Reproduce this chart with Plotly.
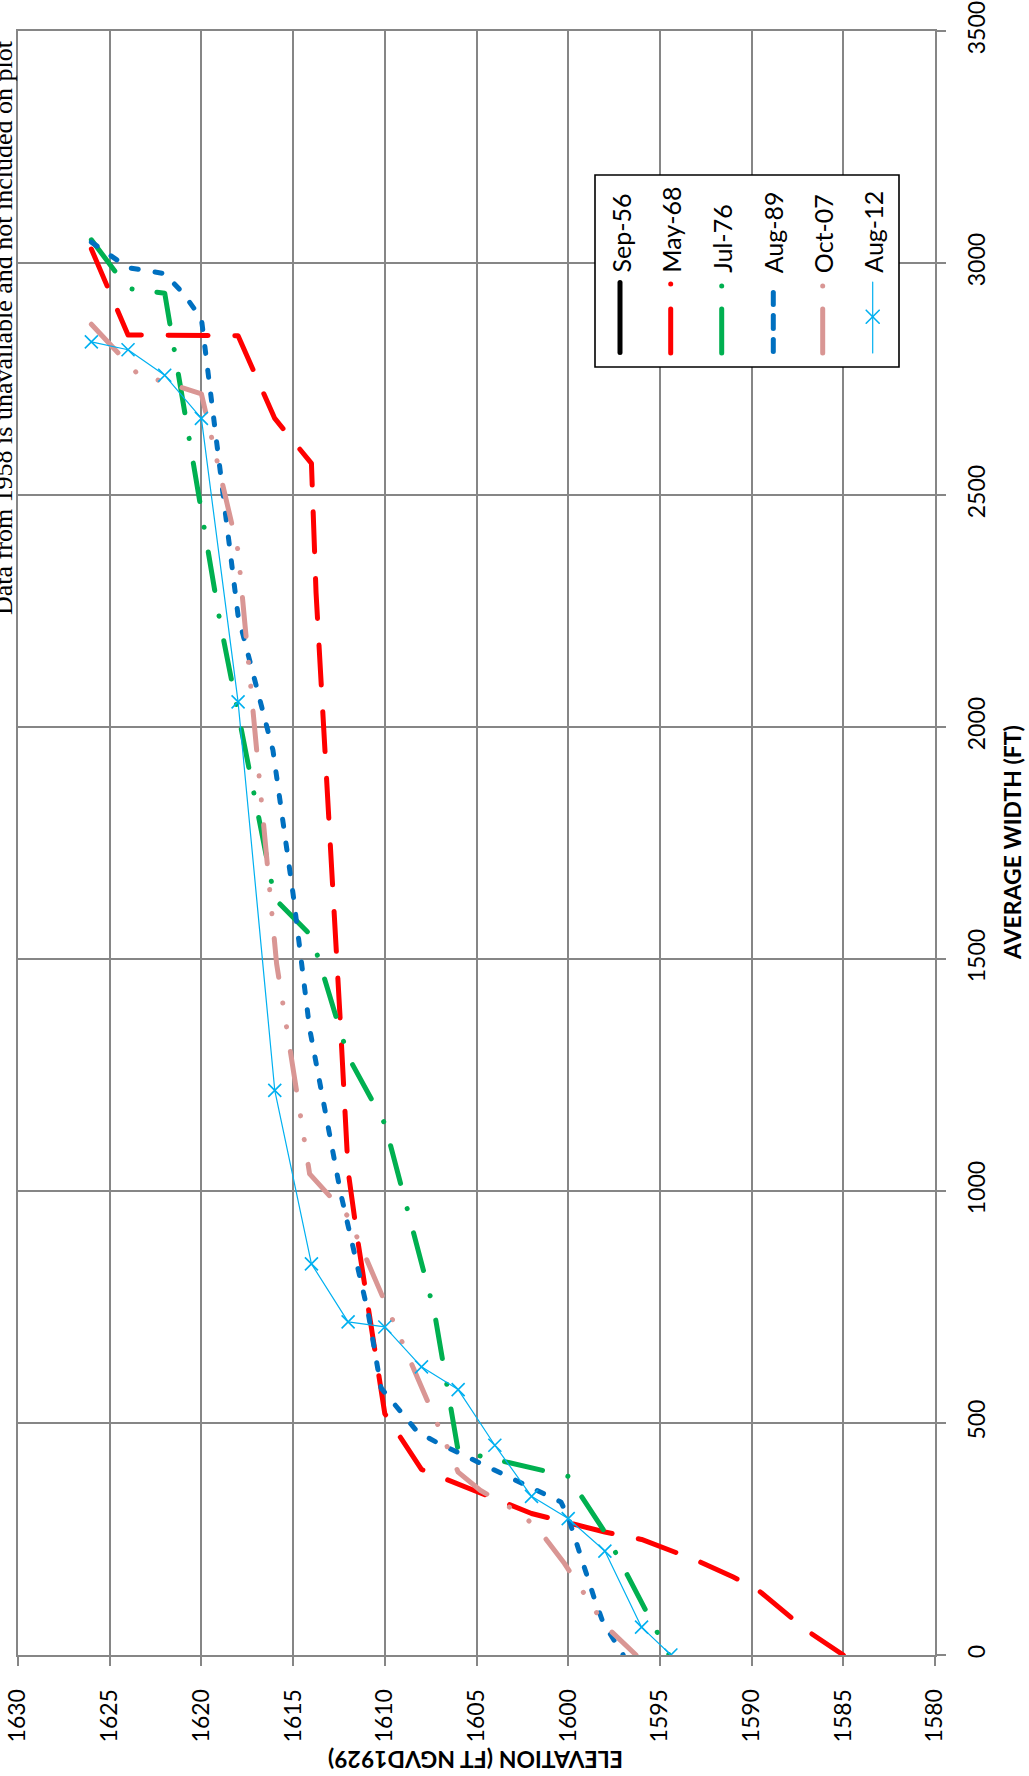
import plotly.graph_objects as go

# ---------------- data (elevation ft NGVD1929, average width ft) ----------------
elev_ticks = [1630, 1625, 1620, 1615, 1610, 1605, 1600, 1595, 1590, 1585, 1580]
width_ticks = [0, 500, 1000, 1500, 2000, 2500, 3000, 3500]

series_names = ["Sep-56", "May-68", "Jul-76", "Aug-89", "Oct-07", "Aug-12"]

# Sep-56 line is not visible in the picture (legend entry only)
sep56_elev = []
sep56_width = []

may68_elev = [1626.0, 1624.0, 1618.0, 1616.0, 1614.0, 1613.75, 1612.45, 1612.0, 1611.5,
              1610.7, 1610.0, 1608.0, 1607.0, 1604.7, 1603.5, 1602.0, 1600.0, 1598.0,
              1596.0, 1593.0, 1591.0, 1589.8, 1587.0, 1586.0, 1585.0]
may68_width = [3030, 2845, 2843, 2665, 2568, 2290, 1382, 1043, 900,
               700, 520, 400, 384, 349, 330, 305, 285, 265,
               249, 204, 168, 145, 53, 25, 0]

jul76_elev = [1626.0, 1624.0, 1622.0, 1619.0, 1616.0, 1614.0, 1612.0, 1610.0, 1607.3,
              1606.0, 1600.0, 1598.0, 1594.5]
jul76_width = [3050, 2945, 2935, 2230, 1630, 1550, 1290, 1145, 740,
               440, 385, 265, 0]

aug89_elev = [1626.0, 1624.0, 1622.0, 1621.0, 1620.0, 1618.0, 1616.1, 1615.0, 1614.1,
              1612.4, 1610.9, 1610.2, 1608.2, 1607.2, 1600.4, 1600.0, 1598.6, 1598.1, 1597.0]
aug89_width = [3045, 2990, 2977, 2935, 2880, 2240, 1950, 1640, 1350,
               994, 736, 575, 480, 459, 330, 297, 125, 70, 0]

oct07_elev = [1626.0, 1623.5, 1620.0, 1618.0, 1615.9, 1614.1, 1612.0, 1606.0, 1604.8,
              1602.6, 1601.6, 1600.2, 1598.0, 1596.3]
oct07_width = [2868, 2762, 2718, 2380, 1490, 1037, 945, 394, 355,
               305, 270, 197, 64, 0]

aug12_elev = [1626, 1624, 1622, 1620, 1618, 1616, 1614, 1612, 1610, 1608, 1606, 1604,
              1602, 1600, 1598, 1596, 1594.4]
aug12_width = [2830, 2813, 2758, 2665, 2054, 1217, 843, 718, 707, 621, 572, 452,
               342, 294, 224, 60, 0]

# ---------------- styling ----------------
W_FIG, H_FIG = 1029, 1776
L, R, T, B = 18, 94, 31, 121
PW, PH = W_FIG - L - R, H_FIG - T - B
GRID = "#868686"

def px(x):
    return (x - L) / PW

def py(y):
    return (H_FIG - B - y) / PH

fig = go.Figure()

def add(name, xs, ys, color, width, dash):
    fig.add_trace(go.Scatter(x=xs, y=ys, mode="lines", name=name,
                             line=dict(color=color, width=width, dash=dash),
                             showlegend=False, hoverinfo="skip"))

add("Sep-56", sep56_elev, sep56_width, "black", 5, "solid")
add("May-68", may68_elev, may68_width, "#FF0000", 5, "40px,26.7px")
add("Jul-76", jul76_elev, jul76_width, "#00B050", 5, "39px,26px,0.1px,25px")
add("Aug-89", aug89_elev, aug89_width, "#0070C0", 5, "7px,17px")
add("Oct-07", oct07_elev, oct07_width, "#D99694", 5, "39px,26px,0.1px,24px,0.1px,25px")
fig.add_trace(go.Scatter(x=aug12_elev, y=aug12_width, mode="lines+markers", name="Aug-12",
                         line=dict(color="#00B0F0", width=1.2),
                         marker=dict(symbol="x-thin", size=13,
                                     line=dict(color="#00B0F0", width=1.6)),
                         showlegend=False, hoverinfo="skip"))

tickfont = dict(family="Lato, DejaVu Sans", size=23, color="black")
fig.update_xaxes(range=[1630, 1580], tickvals=elev_ticks, tickangle=-90,
                 ticks="outside", ticklen=9, tickcolor=GRID, tickwidth=1.7,
                 showgrid=True, gridcolor=GRID, gridwidth=1.7,
                 showline=True, linecolor=GRID, linewidth=1.7, mirror=True,
                 zeroline=False, tickfont=tickfont, ticklabelstandoff=14,
                 automargin=False)
fig.update_yaxes(range=[0, 3500], tickvals=width_ticks, tickangle=-90, side="right",
                 ticks="outside", ticklen=9, tickcolor=GRID, tickwidth=1.7,
                 showgrid=True, gridcolor=GRID, gridwidth=1.7,
                 showline=True, linecolor=GRID, linewidth=1.7, mirror=True,
                 zeroline=False, tickfont=tickfont, ticklabelstandoff=12,
                 automargin=False)

annotations = [
    dict(text="Data from 1958 is unavailable and not included on plot",
         x=px(3), y=py(328), xref="paper", yref="paper", showarrow=False,
         textangle=-90, xanchor="center", yanchor="middle",
         font=dict(family="Liberation Serif", size=26, color="black")),
    dict(text="<b>AVERAGE WIDTH (FT)</b>", x=px(1012), y=py(843),
         xref="paper", yref="paper", showarrow=False, textangle=-90,
         xanchor="center", yanchor="middle",
         font=dict(family="Lato", size=23, color="black")),
    dict(text="<b>ELEVATION (FT NGVD1929)</b>", x=px(476), y=py(1760),
         xref="paper", yref="paper", showarrow=False, textangle=180,
         xanchor="center", yanchor="middle",
         font=dict(family="Lato", size=23, color="black")),
]

# ---------------- manual (rotated) legend ----------------
shapes = [dict(type="rect", xref="paper", yref="paper",
               x0=px(595), x1=px(899), y0=py(175), y1=py(367),
               line=dict(color="black", width=1.6), fillcolor="white", layer="above")]
col_x = [620, 670.7, 721.7, 773.3, 822.7, 872.7]

def seg(x, y0, y1, color, width):
    shapes.append(dict(type="line", xref="paper", yref="paper",
                       x0=px(x), x1=px(x), y0=py(y0), y1=py(y1),
                       line=dict(color=color, width=width), layer="above"))

seg(col_x[0], 282.5, 352.5, "black", 5)
seg(col_x[1], 283.9, 284.0, "#FF0000", 5)
seg(col_x[1], 309, 353, "#FF0000", 5)
seg(col_x[2], 285.9, 286.0, "#00B050", 5)
seg(col_x[2], 309, 353, "#00B050", 5)
for a, b in [(292.5, 304.5), (315.5, 328.5), (339.5, 351.5)]:
    seg(col_x[3], a, b, "#0070C0", 5)
seg(col_x[4], 285.9, 286.0, "#D99694", 5)
seg(col_x[4], 309, 353, "#D99694", 5)
seg(col_x[5], 282, 353, "#00B0F0", 1.2)
cx, cy, h = col_x[5], 316.7, 6.5
for dx in (h, -h):
    shapes.append(dict(type="line", xref="paper", yref="paper",
                       x0=px(cx - dx), x1=px(cx + dx), y0=py(cy - h), y1=py(cy + h),
                       line=dict(color="#00B0F0", width=1.6), layer="above"))

for name, x in zip(series_names, col_x):
    annotations.append(dict(text=name, x=px(x), y=py(275), xref="paper", yref="paper",
                            showarrow=False, textangle=-90, xanchor="center",
                            yanchor="bottom",
                            font=dict(family="Lato", size=25, color="black")))

fig.update_layout(width=W_FIG, height=H_FIG,
                  margin=dict(l=L, r=R, t=T, b=B, pad=0, autoexpand=False),
                  paper_bgcolor="white", plot_bgcolor="white",
                  showlegend=False, annotations=annotations, shapes=shapes)

post = ("var s=document.createElement('style');"
        "s.innerHTML='html,body{margin:0;padding:0;overflow:hidden}"
        " .scatterlayer .js-line{stroke-linecap:round;stroke-linejoin:round}"
        " .shapelayer path{stroke-linecap:round}';"
        "document.head.appendChild(s);")
fig.write_html("out.html", config={"displayModeBar": False}, post_script=post)
